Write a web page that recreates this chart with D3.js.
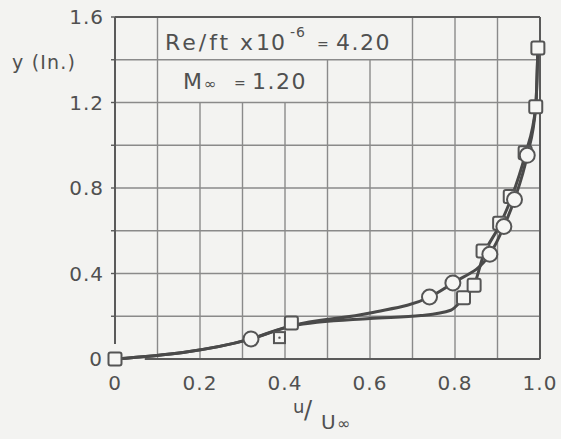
<!DOCTYPE html>
<html>
<head>
<meta charset="utf-8">
<script src="https://cdn.jsdelivr.net/npm/d3@7/dist/d3.min.js"></script>
<style>
  html, body { margin: 0; padding: 0; background: #f3f3f1; }
  svg { display: block; }
  text { font-family: "DejaVu Sans", "Liberation Sans", sans-serif; fill: #505050; }
</style>
</head>
<body>
<svg id="chart" width="561" height="439"></svg>
<script>
// Boundary-layer velocity profile, Re/ft x 10^-6 = 4.20, M = 1.20
const xTicks = [0, 0.2, 0.4, 0.6, 0.8, 1.0];
const xTickLabels = ["0", "0.2", "0.4", "0.6", "0.8", "1.0"];
const yTicks = [0, 0.4, 0.8, 1.2, 1.6];
const yTickLabels = ["0", "0.4", "0.8", "1.2", "1.6"];

// measured points: [u/U, y]
const circles = [
  [0.32, 0.094], [0.74, 0.29], [0.795, 0.356], [0.882, 0.49],
  [0.915, 0.62], [0.94, 0.746], [0.97, 0.953]
];
const squares = [
  [0, 0], [0.415, 0.168], [0.82, 0.286], [0.845, 0.345], [0.866, 0.505],
  [0.905, 0.635], [0.93, 0.76], [0.965, 0.965], [0.99, 1.18], [0.995, 1.455]
];
const squaresDotted = [[0.387, 0.10]];

// faired curves through each set
const circleCurve = [
  [0, 0], [0.32, 0.094], [0.415, 0.155], [0.6, 0.215], [0.74, 0.29],
  [0.795, 0.356], [0.882, 0.49], [0.915, 0.62], [0.94, 0.746],
  [0.97, 0.953], [0.99, 1.18], [0.995, 1.455]
];
const squareCurve = [
  [0, 0], [0.32, 0.094], [0.415, 0.155], [0.6, 0.19], [0.72, 0.203],
  [0.79, 0.228], [0.82, 0.286], [0.845, 0.345], [0.866, 0.48],
  [0.905, 0.625], [0.932, 0.75], [0.965, 0.955], [0.99, 1.18], [0.995, 1.455]
];

const svg = d3.select("#chart");
const x = d3.scaleLinear().domain([0, 1]).range([115, 540]);
const y = d3.scaleLinear().domain([0, 1.6]).range([359, 17]);

const grid = svg.append("g").attr("stroke", "#8a8a8a").attr("stroke-width", 1.4);

// vertical grid lines every 0.1; some stop short under the annotation boxes
d3.range(1, 10).forEach(i => {
  const v = i / 10;
  let top = 1.6;
  if (i >= 2 && i <= 4) top = 1.2;
  else if (i >= 5 && i <= 6) top = 1.4;
  grid.append("line")
    .attr("x1", x(v)).attr("x2", x(v))
    .attr("y1", y(0)).attr("y2", y(top));
});
// horizontal grid lines every 0.2
d3.range(1, 8).forEach(i => {
  const v = i * 0.2;
  grid.append("line")
    .attr("x1", x(0)).attr("x2", x(1))
    .attr("y1", y(v)).attr("y2", y(v));
});

// frame
const frame = svg.append("g").attr("stroke", "#5a5a5a").attr("stroke-width", 2).attr("fill", "none");
frame.append("line").attr("x1", x(0)).attr("x2", x(0)).attr("y1", y(1.6)).attr("y2", y(0.07));
frame.append("line").attr("x1", x(0.07)).attr("x2", x(1)).attr("y1", y(0)).attr("y2", y(0));
frame.append("line").attr("x1", x(0)).attr("x2", x(1)).attr("y1", y(1.6)).attr("y2", y(1.6));
frame.append("line").attr("x1", x(1)).attr("x2", x(1)).attr("y1", y(1.6)).attr("y2", y(0));

// small ticks left of the y axis
[0.2, 0.4, 0.6, 0.8, 1.0, 1.2, 1.4, 1.6].forEach(v => {
  frame.append("line").attr("x1", x(0) - 4).attr("x2", x(0))
    .attr("y1", y(v)).attr("y2", y(v)).attr("stroke-width", 1.4);
});

// tick labels
const fs = 20;
svg.append("g").selectAll("text").data(xTicks).join("text")
  .attr("x", d => x(d)).attr("y", 390)
  .attr("text-anchor", "middle").attr("font-size", fs)
  .attr("letter-spacing", 1)
  .text((d, i) => xTickLabels[i]);

svg.append("g").selectAll("text").data(yTicks).join("text")
  .attr("x", d => d === 0 ? 103 : 104).attr("y", d => y(d) + 7)
  .attr("text-anchor", "end").attr("font-size", fs)
  .attr("letter-spacing", 1)
  .text((d, i) => yTickLabels[i]);

// axis titles
svg.append("text").attr("x", 12).attr("y", 69).attr("font-size", 19).attr("letter-spacing", 1.2).text("y (In.)");

const xt = svg.append("g");
xt.append("text").attr("x", 293).attr("y", 413).attr("font-size", 18).text("u");
xt.append("text").attr("x", 304).attr("y", 418).attr("font-size", 24).text("/");
xt.append("text").attr("x", 321).attr("y", 429).attr("font-size", 20).text("U");
xt.append("text").attr("x", 337).attr("y", 429).attr("font-size", 16).text("∞");

// annotation
const note = svg.append("g").attr("font-size", 22);
note.append("text").attr("x", 165).attr("y", 50).attr("letter-spacing", 3).text("Re/ft");
note.append("text").attr("x", 240).attr("y", 50).text("x");
note.append("text").attr("x", 256).attr("y", 50).attr("letter-spacing", 1).text("10");
note.append("text").attr("x", 290).attr("y", 37).attr("font-size", 14).attr("letter-spacing", 1).text("-6");
note.append("text").attr("x", 317).attr("y", 49).attr("font-size", 14).text("=");
note.append("text").attr("x", 336).attr("y", 50).attr("letter-spacing", 1.5).text("4.20");

note.append("text").attr("x", 183).attr("y", 89).text("M");
note.append("text").attr("x", 204).attr("y", 89).attr("font-size", 15).text("∞");
note.append("text").attr("x", 234).attr("y", 88).attr("font-size", 14).text("=");
note.append("text").attr("x", 252).attr("y", 89).attr("letter-spacing", 1.5).text("1.20");

// curves
const line = d3.line().x(d => x(d[0])).y(d => y(d[1])).curve(d3.curveMonotoneX);
svg.append("path").datum(squareCurve).attr("d", line)
  .attr("fill", "none").attr("stroke", "#4a4a4a").attr("stroke-width", 3);
svg.append("path").datum(circleCurve).attr("d", line)
  .attr("fill", "none").attr("stroke", "#4a4a4a").attr("stroke-width", 3);

// markers
const mk = svg.append("g").attr("stroke", "#555").attr("stroke-width", 2).attr("fill", "#f6f6f4");
const s = 13;
mk.selectAll("rect.sq").data(squares).join("rect").attr("class", "sq")
  .attr("x", d => x(d[0]) - s / 2).attr("y", d => y(d[1]) - s / 2)
  .attr("width", s).attr("height", s).attr("rx", 2);
const s2 = 11;
mk.selectAll("rect.sqd").data(squaresDotted).join("rect").attr("class", "sqd")
  .attr("x", d => x(d[0]) - s2 / 2).attr("y", d => y(d[1]) - s2 / 2)
  .attr("width", s2).attr("height", s2);
svg.selectAll("circle.dot").data(squaresDotted).join("circle").attr("class", "dot")
  .attr("cx", d => x(d[0])).attr("cy", d => y(d[1])).attr("r", 1.2).attr("fill", "#555");
mk.selectAll("circle.c").data(circles).join("circle").attr("class", "c")
  .attr("cx", d => x(d[0])).attr("cy", d => y(d[1])).attr("r", 7.5);
</script>
</body>
</html>
